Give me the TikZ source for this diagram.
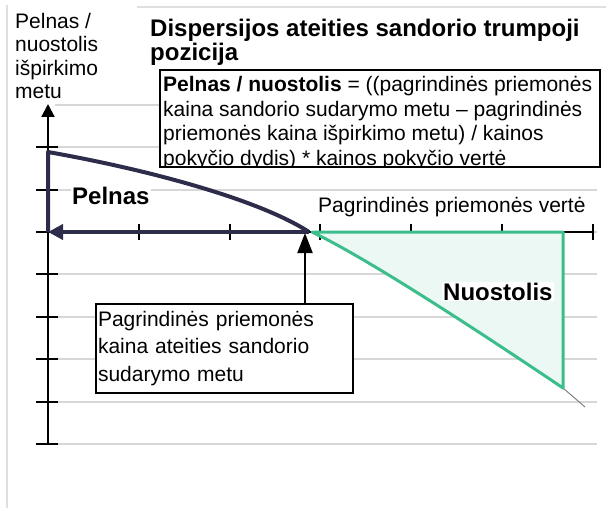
\documentclass[tikz,border=0pt]{standalone}
\usepackage{fontspec}
\setmainfont{Liberation Sans}
\usepackage{xcolor}
\usetikzlibrary{arrows.meta}

\definecolor{profitnavy}{RGB}{45,45,75}
\definecolor{lossgreen}{RGB}{60,190,140}
\definecolor{lossfill}{RGB}{236,248,243}
\definecolor{gridgray}{RGB}{215,215,215}

\begin{document}
\begin{tikzpicture}[x=1pt, y=-1pt]
        % ================= 样式定义 =================
        \tikzset{
            % 普通文字 (21px)
            lbl/.style={inner sep=0pt, font=\fontsize{21}{23.5}\selectfont},
            % 粗体标签,白底
            boldlbl/.style={inner sep=1pt, fill=white, font=\fontsize{24}{24}\selectfont\bfseries},
            % 浅灰网格线
            gridline/.style={line width=2pt, gridgray},
            % 黑色坐标轴
            axisline/.style={line width=2pt, black},
            % 深蓝盈利区边线
            profit_edge/.style={line width=4pt, profitnavy, line join=round},
            % 绿色亏损区边线
            loss_edge/.style={line width=3pt, lossgreen, line join=round},
            % 白底黑框说明框
            infobox/.style={draw=black, line width=2pt, fill=white}
        }
        \useasboundingbox (0,0) rectangle (615,508);

        % ================= 外框与网格 =================
        \draw[gridgray!80, line width=1.5pt] (7,5) -- (7,508);
        \draw[gridgray!80, line width=1.5pt] (137,7) -- (606,7);
        \foreach \k in {-3,...,5} {
            \draw[gridline] (55, 232+42.4*\k) -- (597, 232+42.4*\k);
        }

        % ================= 坐标轴 =================
        \coordinate (ytop) at (48,104);
        \coordinate (ybot) at (48,444);
        \coordinate (origin) at (48,232);
        \coordinate (xend) at (593,232);
        \draw[axisline, -{Triangle[length=13pt, width=13pt]}] (ybot) -- (ytop);
        \foreach \k in {-2,...,5} {
            \draw[axisline] (36, 232+42.4*\k) -- (58, 232+42.4*\k);
        }
        \draw[axisline] (origin) -- (xend);
        \foreach \k in {1,...,6} {
            \draw[axisline] (48+90.8*\k, 224) -- (48+90.8*\k, 240);
        }

        % ================= 亏损区 (绿色) =================
        \coordinate (bep) at (309,232);
        \coordinate (lossstart) at (312,232);
        \coordinate (lossend) at (563,388);
        \coordinate (losstop) at (563,232);
        \draw[gray, line width=1pt] (lossend) -- (585,407);
        \filldraw[loss_edge, fill=lossfill] (lossstart) .. controls (360,255) and (450,312) .. (lossend) -- (losstop) -- cycle;

        % ================= 盈利区 (深蓝) =================
        \coordinate (profittop) at (48,152);
        \draw[profit_edge] (origin) -- (profittop) .. controls (150,170) and (260,200) .. (bep);
        \draw[profit_edge, {Triangle[length=15pt, width=15pt]}-] (origin) -- (bep);

        % ================= 文字标签 =================
        \node[lbl, fill=white, align=left, anchor=north west] (ylabel) at (15,12.7) {Pelnas /\\nuostolis\\išpirkimo\\metu};
        \node[anchor=north west, align=left, inner sep=0pt, font=\fontsize{24}{24}\selectfont\bfseries] (title) at (150,19) {Dispersijos ateities sandorio trumpoji\\pozicija};
        \node[boldlbl, anchor=base west] (profitlbl) at (71,204) {Pelnas};
        \node[boldlbl, anchor=base west] (losslbl) at (442,300) {Nuostolis};
        \node[lbl, fill=white, anchor=base west] (xlabel) at (318,212) {Pagrindinės priemonės vertė};

        % ================= 公式框 (底边截断文字) =================
        \node[fill=white, minimum width=440pt, minimum height=97pt, anchor=north west, inner sep=0pt] (formulabox) at (160,70) {};
        \begin{scope}
            \clip (formulabox.north west) rectangle (formulabox.south east);
            \node[lbl, align=left, anchor=north west, font=\fontsize{21}{24.5}\selectfont] (formula) at (163,76.5) {\textbf{Pelnas / nuostolis} = ((pagrindinės priemonės\\kaina sandorio sudarymo metu – pagrindinės\\priemonės kaina išpirkimo metu) / kainos\\pokyčio dydis) * kainos pokyčio vertė};
        \end{scope}
        \draw[black, line width=2pt] (formulabox.north west) rectangle (formulabox.south east);

        % ================= 初始价格说明框与箭头 =================
        \node[infobox, lbl, text width=253pt, inner xsep=2pt, inner ysep=7pt, align=left, anchor=north west, font=\fontsize{21}{27.5}\selectfont] (pricebox) at (95,303) {Pagrindinės priemonės\\kaina ateities sandorio\\sudarymo metu};
        \coordinate (arrowtip) at (305,233);
        \draw[axisline, -{Triangle[length=20pt, width=15pt]}] (pricebox.north -| arrowtip) -- (arrowtip);

\end{tikzpicture}
\end{document}
